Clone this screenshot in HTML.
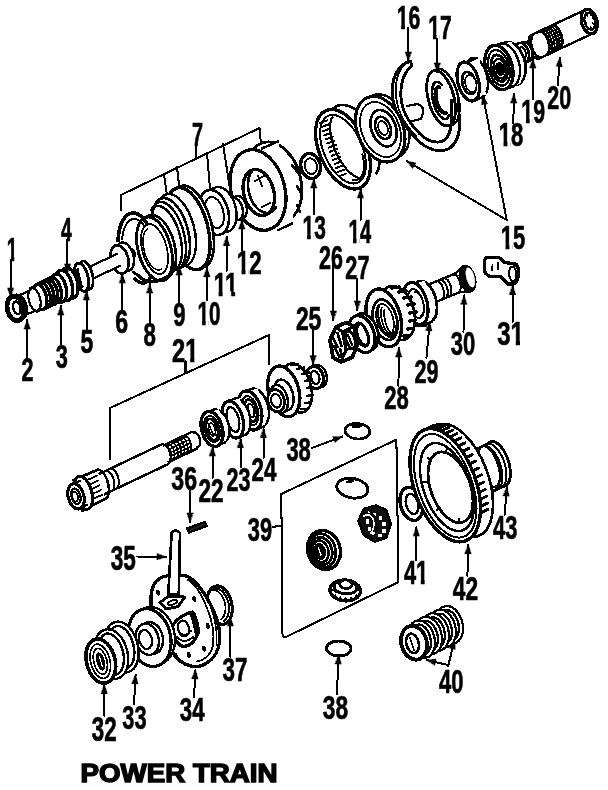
<!DOCTYPE html>
<html><head><meta charset="utf-8"><title>Power Train</title>
<style>
html,body{margin:0;padding:0;background:#fff;}
body{width:608px;height:790px;overflow:hidden;}
svg{display:block;filter:grayscale(1);}
svg .g *{stroke:#000;stroke-linecap:round;stroke-linejoin:round;}
svg .g text{font-family:"Liberation Sans",sans-serif;font-weight:bold;font-size:32.0px;fill:#000;stroke:#000;stroke-width:0.65px;stroke-linejoin:miter;}
svg .g .f{fill:#000;stroke:#000;stroke-width:0.6px;}
svg .g .w{fill:#fff;}
svg .g use{fill:#000;stroke:#000;stroke-linejoin:miter;}
svg .t{font-size:22px;}
</style></head><body>
<svg width="608" height="790" viewBox="0 0 608 790" fill="none" shape-rendering="crispEdges" text-rendering="optimizeSpeed">
<rect x="0" y="0" width="608" height="790" fill="#fff"/>
<defs><clipPath id="c1"><rect x="-0.50" y="-30" width="18.79" height="25.4"/><rect x="6.90" y="-4.8" width="5.6" height="6.8"/></clipPath><clipPath id="c10"><rect x="-0.50" y="-30" width="18.79" height="25.4"/><rect x="6.90" y="-4.8" width="5.6" height="6.8"/><rect x="17.29" y="-30" width="18.79" height="38"/></clipPath><clipPath id="c11"><rect x="-0.50" y="-30" width="18.79" height="25.4"/><rect x="6.90" y="-4.8" width="5.6" height="6.8"/><rect x="17.29" y="-30" width="18.79" height="25.4"/><rect x="24.69" y="-4.8" width="5.6" height="6.8"/></clipPath><clipPath id="c12"><rect x="-0.50" y="-30" width="18.79" height="25.4"/><rect x="6.90" y="-4.8" width="5.6" height="6.8"/><rect x="17.29" y="-30" width="18.79" height="38"/></clipPath><clipPath id="c13"><rect x="-0.50" y="-30" width="18.79" height="25.4"/><rect x="6.90" y="-4.8" width="5.6" height="6.8"/><rect x="17.29" y="-30" width="18.79" height="38"/></clipPath><clipPath id="c14"><rect x="-0.50" y="-30" width="18.79" height="25.4"/><rect x="6.90" y="-4.8" width="5.6" height="6.8"/><rect x="17.29" y="-30" width="18.79" height="38"/></clipPath><clipPath id="c15"><rect x="-0.50" y="-30" width="18.79" height="25.4"/><rect x="6.90" y="-4.8" width="5.6" height="6.8"/><rect x="17.29" y="-30" width="18.79" height="38"/></clipPath><clipPath id="c16"><rect x="-0.50" y="-30" width="18.79" height="25.4"/><rect x="6.90" y="-4.8" width="5.6" height="6.8"/><rect x="17.29" y="-30" width="18.79" height="38"/></clipPath><clipPath id="c17"><rect x="-0.50" y="-30" width="18.79" height="25.4"/><rect x="6.90" y="-4.8" width="5.6" height="6.8"/><rect x="17.29" y="-30" width="18.79" height="38"/></clipPath><clipPath id="c18"><rect x="-0.50" y="-30" width="18.79" height="25.4"/><rect x="6.90" y="-4.8" width="5.6" height="6.8"/><rect x="17.29" y="-30" width="18.79" height="38"/></clipPath><clipPath id="c19"><rect x="-0.50" y="-30" width="18.79" height="25.4"/><rect x="6.90" y="-4.8" width="5.6" height="6.8"/><rect x="17.29" y="-30" width="18.79" height="38"/></clipPath><clipPath id="c21"><rect x="-0.50" y="-30" width="18.79" height="38"/><rect x="17.29" y="-30" width="18.79" height="25.4"/><rect x="24.69" y="-4.8" width="5.6" height="6.8"/></clipPath><clipPath id="c31"><rect x="-0.50" y="-30" width="18.79" height="38"/><rect x="17.29" y="-30" width="18.79" height="25.4"/><rect x="24.69" y="-4.8" width="5.6" height="6.8"/></clipPath><clipPath id="c41"><rect x="-0.50" y="-30" width="18.79" height="38"/><rect x="17.29" y="-30" width="18.79" height="25.4"/><rect x="24.69" y="-4.8" width="5.6" height="6.8"/></clipPath></defs>
<g class="g">
<text transform="translate(80.50,782.00) scale(1.1800,1.0700)" text-anchor="start" style="font-size:23.5px;stroke-width:1.32px">POWER TRAIN</text>
<path d="M121,210 L121,195 L259.5,128 L261,144" stroke-width="2.02" fill="none" />
<line x1="164" y1="174" x2="167" y2="195" stroke-width="2.02"/>
<line x1="177" y1="167" x2="179" y2="185" stroke-width="2.02"/>
<line x1="207" y1="153" x2="210" y2="189" stroke-width="2.02"/>
<line x1="223" y1="144" x2="230" y2="189" stroke-width="2.02"/>
<line x1="196" y1="146" x2="196" y2="157" stroke-width="2.02"/>
<path d="M110,459 L110,408 L269,335 L269,364" stroke-width="2.02" fill="none" />
<line x1="185.5" y1="361" x2="185.5" y2="373" stroke-width="2.02"/>
<path d="M281.3,494 L396.4,439.7 L398.5,582 L286,637 Q282,638 282.5,632 Z" stroke-width="2.02" fill="none" />
<line x1="273" y1="527" x2="281" y2="525.5" stroke-width="2.02"/>
<ellipse cx="132.1" cy="253.4" rx="2.7" ry="4.5" transform="rotate(-14 132.1 253.4)" stroke-width="2.24" fill="#fff" />
<ellipse cx="124.9" cy="256.8" rx="8.7" ry="14.5" transform="rotate(-14 124.9 256.8)" stroke-width="2.46" fill="#fff" />
<ellipse cx="119.5" cy="259.4" rx="8.7" ry="14.5" transform="rotate(-14 119.5 259.4)" stroke-width="2.69" fill="#fff" />
<path d="M84.5,269.2 L117.1,253.8 L120.1,265.8 L87.5,281.2 Z" stroke-width="0.01" fill="#fff" />
<line x1="84.5" y1="269.2" x2="117.1" y2="253.8" stroke-width="2.24"/>
<line x1="87.5" y1="281.2" x2="120.1" y2="265.8" stroke-width="2.24"/>
<ellipse cx="86.0" cy="275.2" rx="6.5" ry="14.5" transform="rotate(-14 86.0 275.2)" stroke-width="2.69" fill="#fff" />
<ellipse cx="81.5" cy="277.3" rx="6.5" ry="14.5" transform="rotate(-14 81.5 277.3)" stroke-width="2.91" fill="#fff" />
<path d="M65.8,275.0 L78.4,269.0 L82.8,286.5 L70.1,292.4 Z" stroke-width="0.01" fill="#000" />
<line x1="65.8" y1="275.0" x2="78.4" y2="269.0" stroke-width="2.24"/>
<line x1="70.1" y1="292.4" x2="82.8" y2="286.5" stroke-width="2.24"/>
<ellipse cx="69.7" cy="282.9" rx="7.8" ry="15.5" transform="rotate(-14 69.7 282.9)" stroke-width="3.36" fill="#fff" />
<ellipse cx="64.3" cy="285.4" rx="7.8" ry="15.5" transform="rotate(-14 64.3 285.4)" stroke-width="3.36" fill="#fff" />
<path d="M30.6,287.8 L59.5,274.1 L65.5,298.4 L36.6,312.1 Z" stroke-width="0.01" fill="#fff" />
<line x1="30.6" y1="287.8" x2="59.5" y2="274.1" stroke-width="2.24"/>
<line x1="36.6" y1="312.1" x2="65.5" y2="298.4" stroke-width="2.24"/>
<ellipse cx="58.9" cy="288.0" rx="7.2" ry="14.5" transform="rotate(-14 58.9 288.0)" stroke-width="3.36" fill="#fff" />
<ellipse cx="54.4" cy="290.1" rx="6.5" ry="13" transform="rotate(-14 54.4 290.1)" stroke-width="3.36" fill="#fff" />
<ellipse cx="50.8" cy="291.8" rx="6.5" ry="13" transform="rotate(-14 50.8 291.8)" stroke-width="3.36" fill="#fff" />
<ellipse cx="47.1" cy="293.5" rx="6.5" ry="13" transform="rotate(-14 47.1 293.5)" stroke-width="3.36" fill="#fff" />
<ellipse cx="43.5" cy="295.3" rx="6.5" ry="13" transform="rotate(-14 43.5 295.3)" stroke-width="3.36" fill="#fff" />
<ellipse cx="39.9" cy="297.0" rx="6.5" ry="13" transform="rotate(-14 39.9 297.0)" stroke-width="3.36" fill="#fff" />
<path d="M15.7,297.0 L32.8,288.9 L37.9,309.3 L20.8,317.4 Z" stroke-width="0.01" fill="#fff" />
<line x1="15.7" y1="297.0" x2="32.8" y2="288.9" stroke-width="2.24"/>
<line x1="20.8" y1="317.4" x2="37.9" y2="309.3" stroke-width="2.24"/>
<ellipse cx="34.5" cy="299.5" rx="5.8" ry="11.5" transform="rotate(-14 34.5 299.5)" stroke-width="2.24" fill="#fff" />
<ellipse cx="18.2" cy="307.2" rx="8.2" ry="12.5" transform="rotate(-14 18.2 307.2)" stroke-width="2.91" fill="#fff" />
<ellipse cx="15.5" cy="308.5" rx="8.2" ry="12.5" transform="rotate(-14 15.5 308.5)" stroke-width="4.7" fill="#fff" />
<ellipse cx="16.9" cy="307.9" rx="3.6" ry="6.5" transform="rotate(-14 16.9 307.9)" stroke-width="2.46" fill="#fff" />
<ellipse cx="274.0" cy="182.0" rx="26.8" ry="40.8" transform="rotate(-15 274.0 182.0)" stroke-width="2.91" fill="#fff" />
<path d="M262.0,147.5 L278.0,140.5 L294.0,222.5 L278.0,230.0 Z" stroke-width="0.01" fill="#fff" />
<line x1="262" y1="148.5" x2="278" y2="141.5" stroke-width="2.46"/>
<line x1="278" y1="230.3" x2="292" y2="223.5" stroke-width="2.46"/>
<ellipse cx="258.0" cy="190.0" rx="26.8" ry="41.1" transform="rotate(-15 258.0 190.0)" stroke-width="3.36" fill="#fff" />
<line x1="284" y1="148" x2="291" y2="157" stroke-width="2.69"/>
<line x1="292" y1="165" x2="299" y2="174" stroke-width="2.69"/>
<line x1="297" y1="186" x2="302" y2="195" stroke-width="2.69"/>
<line x1="297" y1="205" x2="300" y2="212" stroke-width="2.46"/>
<ellipse cx="258.8" cy="192.5" rx="15.0" ry="23.5" transform="rotate(-15 258.8 192.5)" stroke-width="3.36" fill="#fff" />
<path d="M275.9,207.7 L274.7,209.3 L273.4,210.7 L271.9,211.7 L270.3,212.5 L268.6,212.9 L266.8,213.0 L265.0,212.8 L263.2,212.2 L261.3,211.4 L259.5,210.3 L257.8,208.8 L256.1,207.1 L254.6,205.2 L253.1,203.0 L251.9,200.7 L250.7,198.2 L249.8,195.6 L249.0,193.0 L248.5,190.3 L248.1,187.5 L248.0,184.9 L248.1,182.2 L248.4,179.7 L248.9,177.4 L249.6,175.2 L250.6,173.2 L251.6,171.5 L252.9,170.0" stroke-width="2.69" fill="none" />
<line x1="255" y1="181" x2="264" y2="176" stroke-width="1.79"/>
<line x1="262" y1="207" x2="270" y2="203" stroke-width="1.79"/>
<line x1="258" y1="176" x2="262" y2="186" stroke-width="1.79"/>
<ellipse cx="240.0" cy="207.0" rx="6.6" ry="11.3" transform="rotate(-15 240.0 207.0)" stroke-width="2.46" fill="#fff" />
<ellipse cx="236.0" cy="209.0" rx="6.6" ry="11.3" transform="rotate(-15 236.0 209.0)" stroke-width="2.46" fill="#fff" />
<ellipse cx="221.8" cy="209.5" rx="14.0" ry="23.0" transform="rotate(-15 221.8 209.5)" stroke-width="2.46" fill="#fff" />
<ellipse cx="214.0" cy="212.5" rx="14.3" ry="23.0" transform="rotate(-15 214.0 212.5)" stroke-width="2.69" fill="#fff" />
<ellipse cx="214.5" cy="212.5" rx="8.9" ry="15.9" transform="rotate(-15 214.5 212.5)" stroke-width="2.02" fill="#fff" />
<ellipse cx="192.5" cy="226.7" rx="19.2" ry="42.2" transform="rotate(-15 192.5 226.7)" stroke-width="2.69" fill="#fff" />
<ellipse cx="188.0" cy="228.7" rx="19.8" ry="42.2" transform="rotate(-15 188.0 228.7)" stroke-width="3.36" fill="#fff" />
<ellipse cx="176.0" cy="230.0" rx="18.2" ry="37.0" transform="rotate(-15 176.0 230.0)" stroke-width="2.46" fill="#fff" />
<ellipse cx="171.0" cy="233.0" rx="17.2" ry="35.9" transform="rotate(-15 171.0 233.0)" stroke-width="2.69" fill="#fff" />
<path d="M152.4,208.9 L153.8,206.2 L155.6,204.2 L157.5,202.8 L159.7,202.1 L162.1,202.1 L164.6,202.8 L167.2,204.1 L169.7,206.2 L172.3,208.8 L174.7,212.0 L177.1,215.7 L179.2,219.8 L181.1,224.2 L182.7,228.9 L184.0,233.7 L185.0,238.6 L185.7,243.4 L186.0,248.1 L185.9,252.5 L185.5,256.6 L184.6,260.2 L183.5,263.4 L182.0,266.0 L180.3,268.0 L178.3,269.3 L176.1,269.9 L173.7,269.9 L171.2,269.1" stroke-width="2.46" fill="none" />
<path d="M151.2,209.6 L152.8,207.9 L154.6,206.7 L156.5,206.1 L158.6,206.0 L160.8,206.5 L163.1,207.6 L165.4,209.1 L167.7,211.2 L169.9,213.7 L172.0,216.7 L174.0,220.0 L175.8,223.6 L177.5,227.5 L178.9,231.6 L180.1,235.8 L181.0,240.1 L181.6,244.3 L181.9,248.4 L182.0,252.4 L181.7,256.1 L181.2,259.5 L180.3,262.6 L179.2,265.2 L177.8,267.4 L176.2,269.1 L174.4,270.3 L172.5,270.9 L170.4,271.0" stroke-width="2.46" fill="none" />
<ellipse cx="158.0" cy="246.5" rx="16.5" ry="32.3" transform="rotate(-15 158.0 246.5)" stroke-width="2.69" fill="#fff" />
<ellipse cx="154.5" cy="249.0" rx="16.4" ry="32.8" transform="rotate(-15 154.5 249.0)" stroke-width="2.91" fill="#fff" />
<ellipse cx="154.5" cy="249.0" rx="12.2" ry="25.7" transform="rotate(-15 154.5 249.0)" stroke-width="1.79" fill="#fff" />
<path d="M161.7,269.0 L160.7,269.6 L159.6,269.9 L158.4,270.0 L157.1,269.8 L155.9,269.3 L154.6,268.6 L153.3,267.6 L152.0,266.4 L150.8,265.0 L149.6,263.3 L148.5,261.5 L147.4,259.6 L146.4,257.5 L145.6,255.3 L144.8,253.0 L144.2,250.7 L143.7,248.3 L143.3,246.0 L143.1,243.6 L143.0,241.4 L143.1,239.3 L143.3,237.2 L143.6,235.4 L144.1,233.7 L144.7,232.2 L145.5,230.9 L146.3,229.8 L147.3,229.0" stroke-width="1.57" fill="none" />
<path d="M118.0,240.7 L118.2,238.1 L118.4,235.5 L118.8,233.0 L119.2,230.6 L119.8,228.3 L120.4,226.1 L121.2,224.0 L122.0,222.1 L122.9,220.4 L123.9,218.8 L125.0,217.4 L126.1,216.1 L127.3,215.1 L128.6,214.3 L129.9,213.7 L131.2,213.2 L132.6,213.0 L134.0,213.0 L135.4,213.2 L136.8,213.7 L138.2,214.3 L139.6,215.1 L140.9,216.2 L142.3,217.4 L143.6,218.8 L144.8,220.4 L146.0,222.2 L147.1,224.1" stroke-width="3.58" fill="none" />
<path d="M122.1,239.5 L122.3,237.5 L122.6,235.6 L122.9,233.8 L123.3,232.0 L123.7,230.3 L124.3,228.7 L124.9,227.2 L125.5,225.8 L126.2,224.5 L127.0,223.4 L127.8,222.3 L128.6,221.4 L129.5,220.7 L130.5,220.0 L131.4,219.6 L132.4,219.2 L133.4,219.0 L134.4,219.0 L135.5,219.1 L136.5,219.4 L137.5,219.8 L138.6,220.3 L139.6,221.0 L140.6,221.9 L141.6,222.8 L142.6,223.9 L143.5,225.1 L144.4,226.5" stroke-width="2.02" fill="none" />
<path d="M151.0,276.1 L150.6,277.0 L150.3,277.7 L149.9,278.4 L149.5,279.1 L149.0,279.7 L148.6,280.3 L148.1,280.8 L147.6,281.3 L147.0,281.7 L146.5,282.1 L145.9,282.4 L145.4,282.6 L144.8,282.8 L144.2,282.9 L143.5,283.0 L142.9,283.0 L142.3,283.0 L141.6,282.9 L140.9,282.7 L140.2,282.5 L139.6,282.2 L138.9,281.9 L138.2,281.5 L137.5,281.1 L136.8,280.6 L136.1,280.0 L135.3,279.4 L134.6,278.8" stroke-width="3.36" fill="none" />
<path d="M139,276 Q150,288 170,275" stroke-width="3.36" fill="none" />
<path d="M133,272 L141,277" stroke-width="2.69" fill="none" />
<ellipse cx="310.6" cy="166.0" rx="9.8" ry="12.7" transform="rotate(-15 310.6 166.0)" stroke-width="3.36" fill="#fff" />
<ellipse cx="310.8" cy="166.2" rx="6.1" ry="7.9" transform="rotate(-15 310.8 166.2)" stroke-width="2.02" fill="#fff" />
<ellipse cx="353.0" cy="143.0" rx="23.5" ry="40.3" transform="rotate(-24 353.0 143.0)" stroke-width="2.69" fill="#fff" />
<path d="M330.0,113.0 L341.0,106.5 L378.0,179.0 L367.0,188.0 Z" stroke-width="0.01" fill="#fff" />
<ellipse cx="343.0" cy="149.2" rx="23.5" ry="42.2" transform="rotate(-24 343.0 149.2)" stroke-width="3.36" fill="#fff" />
<ellipse cx="343.0" cy="149.2" rx="19.2" ry="36.5" transform="rotate(-24 343.0 149.2)" stroke-width="2.02" fill="#fff" />
<path d="M360.9,178.0 L359.3,177.9 L357.7,177.5 L355.9,176.8 L354.1,175.8 L352.3,174.6 L350.4,173.0 L348.5,171.3 L346.6,169.3 L344.8,167.0 L343.0,164.6 L341.2,162.0 L339.6,159.3 L338.0,156.4 L336.5,153.4 L335.2,150.4 L334.0,147.3 L332.9,144.2 L332.0,141.1 L331.3,138.1 L330.7,135.1 L330.3,132.3 L330.0,129.6 L330.0,127.0 L330.1,124.6 L330.5,122.4 L331.0,120.4 L331.6,118.7 L332.5,117.2" stroke-width="2.24" fill="none" />
<line x1="320.0" y1="123.0" x2="327.0" y2="120.4" stroke-width="2.02"/>
<line x1="321.4" y1="127.1" x2="328.4" y2="124.5" stroke-width="2.02"/>
<line x1="322.9" y1="131.2" x2="329.9" y2="128.6" stroke-width="2.02"/>
<line x1="324.4" y1="135.3" x2="331.4" y2="132.7" stroke-width="2.02"/>
<line x1="325.8" y1="139.4" x2="332.8" y2="136.8" stroke-width="2.02"/>
<line x1="327.2" y1="143.5" x2="334.2" y2="140.9" stroke-width="2.02"/>
<line x1="328.7" y1="147.6" x2="335.7" y2="145.0" stroke-width="2.02"/>
<line x1="330.1" y1="151.7" x2="337.1" y2="149.1" stroke-width="2.02"/>
<line x1="331.6" y1="155.8" x2="338.6" y2="153.2" stroke-width="2.02"/>
<line x1="333.1" y1="159.9" x2="340.1" y2="157.3" stroke-width="2.02"/>
<line x1="334.5" y1="164.0" x2="341.5" y2="161.4" stroke-width="2.02"/>
<line x1="335.9" y1="168.1" x2="342.9" y2="165.5" stroke-width="2.02"/>
<line x1="337.4" y1="172.2" x2="344.4" y2="169.6" stroke-width="2.02"/>
<line x1="338.9" y1="176.3" x2="345.9" y2="173.7" stroke-width="2.02"/>
<path d="M362.4,154.3 L362.8,155.9 L363.2,157.6 L363.4,159.2 L363.7,160.8 L363.8,162.3 L363.9,163.8 L364.0,165.3 L364.0,166.7 L363.9,168.1 L363.8,169.4 L363.6,170.7 L363.3,171.9 L363.0,173.0 L362.7,174.0 L362.3,175.0 L361.8,175.9 L361.3,176.7 L360.7,177.4 L360.1,178.1 L359.4,178.6 L358.7,179.1 L357.9,179.4 L357.1,179.7 L356.3,179.9 L355.4,180.0 L354.5,180.0 L353.5,179.9 L352.6,179.7" stroke-width="2.02" fill="none" />
<ellipse cx="384.8" cy="126.7" rx="23.0" ry="33.6" transform="rotate(-22 384.8 126.7)" stroke-width="2.46" fill="#fff" />
<ellipse cx="380.2" cy="129.2" rx="22.9" ry="34.1" transform="rotate(-22 380.2 129.2)" stroke-width="3.14" fill="#fff" />
<ellipse cx="380.5" cy="129.5" rx="18.8" ry="28.7" transform="rotate(-22 380.5 129.5)" stroke-width="1.79" fill="#fff" />
<ellipse cx="383.6" cy="128.2" rx="12.2" ry="18.9" transform="rotate(-20 383.6 128.2)" stroke-width="2.69" fill="#fff" />
<ellipse cx="383.0" cy="127.9" rx="7.4" ry="11.5" transform="rotate(-20 383.0 127.9)" stroke-width="2.69" fill="#fff" />
<ellipse cx="383.0" cy="128.0" rx="4.6" ry="7.3" transform="rotate(-20 383.0 128.0)" stroke-width="1.79" fill="#fff" />
<path d="M410.6,61.4 C397,64 391,80 392.5,96 C394,112 403,124 412,134 C422,147 434,152 444,150.5 C455,148 459.5,136 459.5,125 L458.5,104 L451.5,104 C452.5,118 452,132 446,138.5 C440,145 428,142 420,134 C410,124 402,112 401,98 C400,84 404,72 411.6,66 Z" stroke-width="2.91" fill="#fff" />
<path d="M406.5,63 C396.5,70 394.5,86 396.5,100 C398.5,114 406,126 416,136" stroke-width="1.79" fill="none" />
<path d="M407,106 L418,104 Q424,106 423,113 L421,119 L412,121" stroke-width="2.24" fill="#fff" />
<ellipse cx="444.8" cy="97.0" rx="13.2" ry="28.8" transform="rotate(-15 444.8 97.0)" stroke-width="2.46" fill="#fff" />
<ellipse cx="441.1" cy="98.2" rx="12.8" ry="28.5" transform="rotate(-15 441.1 98.2)" stroke-width="2.91" fill="#fff" />
<path d="M449.0,115.4 L448.3,116.9 L447.4,118.1 L446.3,118.7 L445.2,119.0 L443.9,118.8 L442.5,118.2 L441.1,117.1 L439.7,115.6 L438.3,113.8 L437.0,111.6 L435.8,109.2 L434.8,106.6 L433.8,103.8 L433.1,100.9 L432.5,98.0 L432.1,95.2 L432.0,92.5 L432.1,90.0 L432.4,87.8 L432.9,85.9 L433.6,84.3 L434.4,83.1 L435.5,82.3 L436.6,82.0 L437.9,82.1 L439.3,82.7 L440.7,83.7 L442.1,85.1" stroke-width="2.69" fill="none" />
<path d="M445.7,112.8 L445.0,113.0 L444.3,113.0 L443.6,112.8 L442.9,112.4 L442.1,111.9 L441.4,111.1 L440.6,110.2 L439.9,109.2 L439.1,108.0 L438.5,106.7 L437.8,105.2 L437.3,103.7 L436.8,102.2 L436.3,100.6 L436.0,99.0 L435.7,97.4 L435.6,95.9 L435.5,94.4 L435.5,93.0 L435.6,91.7 L435.8,90.6 L436.1,89.5 L436.5,88.7 L437.0,88.0 L437.5,87.5 L438.1,87.1 L438.7,87.0 L439.4,87.1" stroke-width="4.03" fill="none" />
<path d="M444,150.5 C455,148 459.5,136 459.5,125 L458.5,100 M451.5,100 C452.5,118 452,132 446,138.5" stroke-width="2.91" fill="none" />
<ellipse cx="477.0" cy="77.2" rx="10.1" ry="19.7" transform="rotate(-15 477.0 77.2)" stroke-width="2.46" fill="#fff" />
<path d="M471.0,59.5 L479.0,56.0 L486.0,95.0 L474.0,101.0 Z" stroke-width="0.01" fill="#fff" />
<line x1="474" y1="101" x2="484" y2="96.5" stroke-width="2.46"/>
<line x1="468.5" y1="61.5" x2="477" y2="57.8" stroke-width="2.46"/>
<ellipse cx="468.2" cy="81.5" rx="10.3" ry="20.0" transform="rotate(-15 468.2 81.5)" stroke-width="3.14" fill="#fff" />
<ellipse cx="469.0" cy="83.0" rx="6.6" ry="11.3" transform="rotate(-15 469.0 83.0)" stroke-width="2.91" fill="#fff" />
<ellipse cx="470.8" cy="83.5" rx="5.5" ry="8.7" transform="rotate(-15 470.8 83.5)" stroke-width="1.79" fill="#fff" />
<path d="M532.6,34.4 L586.0,9.5 L592.5,33.6 L539.0,58.6 Z" stroke-width="0.01" fill="#fff" />
<line x1="532.6" y1="34.4" x2="586.0" y2="9.5" stroke-width="2.46"/>
<line x1="539.0" y1="58.6" x2="592.5" y2="33.6" stroke-width="2.46"/>
<ellipse cx="589.3" cy="21.6" rx="7.8" ry="12.5" transform="rotate(-15 589.3 21.6)" stroke-width="3.14" fill="#fff" />
<ellipse cx="589.7" cy="21.4" rx="5.1" ry="8.5" transform="rotate(-15 589.7 21.4)" stroke-width="2.24" fill="#fff" />
<line x1="587.4399999999999" y1="16.0" x2="586.3" y2="12.850000000000001" stroke-width="1.79"/>
<line x1="590.54" y1="14.8" x2="591.3" y2="10.975000000000001" stroke-width="1.79"/>
<line x1="592.4" y1="18.400000000000002" x2="594.3" y2="16.6" stroke-width="1.79"/>
<line x1="592.7099999999999" y1="23.200000000000003" x2="594.8" y2="24.1" stroke-width="1.79"/>
<line x1="590.8499999999999" y1="27.200000000000003" x2="591.8" y2="30.35" stroke-width="1.79"/>
<line x1="587.75" y1="27.6" x2="586.8" y2="30.975" stroke-width="1.79"/>
<line x1="586.1999999999999" y1="23.200000000000003" x2="584.3" y2="24.1" stroke-width="1.79"/>
<ellipse cx="535.8" cy="46.5" rx="6.9" ry="12.5" transform="rotate(-15 535.8 46.5)" stroke-width="2.46" fill="#fff" />
<path d="M535.3,33.2 L538.9,31.5 L545.4,55.6 L541.8,57.3 Z" stroke-width="0.01" fill="#fff" />
<line x1="535.3" y1="33.2" x2="538.9" y2="31.5" stroke-width="2.46"/>
<line x1="541.8" y1="57.3" x2="545.4" y2="55.6" stroke-width="2.46"/>
<path d="M541.8,57.3 L540.9,57.4 L539.9,57.4 L539.0,57.1 L538.0,56.6 L537.0,55.9 L536.1,55.0 L535.2,54.0 L534.4,52.8 L533.6,51.5 L532.9,50.1 L532.4,48.6 L531.9,47.0 L531.5,45.4 L531.3,43.8 L531.1,42.3 L531.2,40.7 L531.3,39.3 L531.5,38.0 L531.9,36.7 L532.4,35.7 L533.0,34.8 L533.7,34.0 L534.4,33.5 L535.3,33.2" stroke-width="2.46" fill="#fff" />
<path d="M538.9,31.5 L552.5,25.1 L559.0,49.3 L545.4,55.6 Z" stroke-width="0.01" fill="#fff" />
<line x1="538.9" y1="31.5" x2="552.5" y2="25.1" stroke-width="2.46"/>
<line x1="545.4" y1="55.6" x2="559.0" y2="49.3" stroke-width="2.46"/>
<path d="M539.8,31.0 L540.6,30.9 L541.5,31.0 L542.4,31.3 L543.3,31.9 L544.2,32.6 L545.0,33.4 L545.9,34.5 L546.7,35.7 L547.4,37.0 L548.0,38.4 L548.6,39.9 L549.1,41.5 L549.5,43.1 L549.7,44.7 L549.9,46.2 L549.9,47.8 L549.8,49.2 L549.6,50.5 L549.3,51.7 L548.9,52.8 L548.3,53.7 L547.7,54.4 L547.0,54.9 L546.3,55.2" stroke-width="1.79" fill="none" />
<path d="M542.2,29.9 L543.0,29.8 L543.8,29.9 L544.7,30.2 L545.6,30.8 L546.5,31.5 L547.4,32.3 L548.2,33.4 L549.0,34.6 L549.7,35.9 L550.4,37.3 L551.0,38.8 L551.4,40.4 L551.8,42.0 L552.1,43.6 L552.2,45.1 L552.3,46.7 L552.2,48.1 L552.0,49.4 L551.6,50.6 L551.2,51.7 L550.7,52.6 L550.1,53.3 L549.4,53.8 L548.6,54.1" stroke-width="1.79" fill="none" />
<path d="M544.5,28.8 L545.3,28.7 L546.2,28.8 L547.1,29.1 L548.0,29.7 L548.9,30.4 L549.7,31.2 L550.6,32.3 L551.4,33.5 L552.1,34.8 L552.8,36.2 L553.3,37.7 L553.8,39.3 L554.2,40.9 L554.4,42.5 L554.6,44.0 L554.6,45.6 L554.5,47.0 L554.3,48.3 L554.0,49.5 L553.6,50.6 L553.1,51.5 L552.5,52.2 L551.8,52.7 L551.0,53.0" stroke-width="1.79" fill="none" />
<path d="M546.9,27.7 L547.7,27.6 L548.6,27.7 L549.4,28.0 L550.3,28.6 L551.2,29.3 L552.1,30.1 L552.9,31.2 L553.7,32.4 L554.5,33.7 L555.1,35.1 L555.7,36.6 L556.2,38.2 L556.5,39.8 L556.8,41.4 L556.9,42.9 L557.0,44.5 L556.9,45.9 L556.7,47.2 L556.4,48.4 L555.9,49.5 L555.4,50.4 L554.8,51.1 L554.1,51.6 L553.4,51.9" stroke-width="1.79" fill="none" />
<path d="M549.2,26.6 L550.1,26.5 L550.9,26.6 L551.8,26.9 L552.7,27.5 L553.6,28.2 L554.5,29.0 L555.3,30.1 L556.1,31.3 L556.8,32.6 L557.5,34.0 L558.0,35.5 L558.5,37.1 L558.9,38.7 L559.1,40.3 L559.3,41.8 L559.3,43.4 L559.2,44.8 L559.0,46.1 L558.7,47.3 L558.3,48.4 L557.8,49.3 L557.2,50.0 L556.5,50.5 L555.7,50.8" stroke-width="1.79" fill="none" />
<path d="M551.6,25.6 L552.4,25.4 L553.3,25.5 L554.2,25.9 L555.0,26.4 L555.9,27.1 L556.8,27.9 L557.7,29.0 L558.4,30.2 L559.2,31.5 L559.8,32.9 L560.4,34.4 L560.9,36.0 L561.2,37.6 L561.5,39.2 L561.6,40.8 L561.7,42.3 L561.6,43.7 L561.4,45.0 L561.1,46.2 L560.7,47.3 L560.1,48.2 L559.5,48.9 L558.8,49.4 L558.1,49.7" stroke-width="1.79" fill="none" />
<line x1="548.8" y1="52.9" x2="560.6" y2="47.4" stroke-width="1.79"/>
<line x1="549.8" y1="49.4" x2="561.6" y2="43.9" stroke-width="1.79"/>
<line x1="549.9" y1="46.1" x2="561.6" y2="40.7" stroke-width="1.79"/>
<line x1="549.4" y1="43.0" x2="561.2" y2="37.5" stroke-width="1.79"/>
<line x1="548.6" y1="40.0" x2="560.4" y2="34.5" stroke-width="1.79"/>
<line x1="547.4" y1="37.1" x2="559.2" y2="31.6" stroke-width="1.79"/>
<line x1="545.7" y1="34.3" x2="557.5" y2="28.8" stroke-width="1.79"/>
<line x1="543.1" y1="31.8" x2="554.9" y2="26.3" stroke-width="1.79"/>
<path d="M552.5,25.1 L553.3,25.0 L554.2,25.1 L555.1,25.4 L556.0,25.9 L556.8,26.6 L557.7,27.5 L558.6,28.6 L559.3,29.8 L560.1,31.1 L560.7,32.5 L561.3,34.0 L561.8,35.6 L562.1,37.2 L562.4,38.8 L562.6,40.3 L562.6,41.8 L562.5,43.3 L562.3,44.6 L562.0,45.8 L561.6,46.9 L561.0,47.7 L560.4,48.4 L559.7,49.0 L559.0,49.3" stroke-width="2.24" fill="none" />
<path d="M538.9,31.5 L539.7,31.4 L540.6,31.5 L541.5,31.8 L542.4,32.3 L543.3,33.0 L544.1,33.9 L545.0,34.9 L545.8,36.1 L546.5,37.4 L547.1,38.9 L547.7,40.4 L548.2,41.9 L548.6,43.5 L548.8,45.1 L549.0,46.7 L549.0,48.2 L548.9,49.6 L548.7,50.9 L548.4,52.1 L548.0,53.2 L547.4,54.1 L546.8,54.8 L546.1,55.3 L545.4,55.6" stroke-width="2.24" fill="none" />
<ellipse cx="525.2" cy="52.0" rx="6.9" ry="10.2" transform="rotate(-15 525.2 52.0)" stroke-width="2.46" fill="#fff" />
<ellipse cx="522.0" cy="53.2" rx="6.7" ry="10.5" transform="rotate(-15 522.0 53.2)" stroke-width="2.69" fill="#fff" />
<ellipse cx="522.0" cy="53.0" rx="3.8" ry="6.1" transform="rotate(-15 522.0 53.0)" stroke-width="1.79" fill="#fff" />
<ellipse cx="511.3" cy="63.5" rx="13.6" ry="22.0" transform="rotate(-15 511.3 63.5)" stroke-width="2.69" fill="#fff" />
<path d="M503.0,44.0 L512.0,41.5 L521.0,83.0 L510.0,89.0 Z" stroke-width="0.01" fill="#fff" />
<ellipse cx="505.5" cy="65.5" rx="13.8" ry="22.5" transform="rotate(-15 505.5 65.5)" stroke-width="2.46" fill="#fff" />
<ellipse cx="498.9" cy="67.5" rx="13.3" ry="22.7" transform="rotate(-15 498.9 67.5)" stroke-width="3.36" fill="#fff" />
<ellipse cx="499.0" cy="67.8" rx="10.3" ry="18.2" transform="rotate(-15 499.0 67.8)" stroke-width="2.24" fill="#fff" />
<ellipse cx="499.2" cy="68.2" rx="7.7" ry="13.6" transform="rotate(-15 499.2 68.2)" stroke-width="2.91" fill="#fff" />
<ellipse cx="499.8" cy="68.8" rx="5.9" ry="10.0" transform="rotate(-15 499.8 68.8)" stroke-width="2.24" fill="#fff" />
<ellipse cx="500.0" cy="69.0" rx="3.8" ry="6.1" transform="rotate(-15 500.0 69.0)" stroke-width="1.79" fill="#000" />
<path d="M428.0,284.8 L455.8,273.3 L460.7,291.7 L433.0,303.2 Z" stroke-width="0.01" fill="#fff" />
<line x1="428.0" y1="284.8" x2="455.8" y2="273.3" stroke-width="2.46"/>
<line x1="433.0" y1="303.2" x2="460.7" y2="291.7" stroke-width="2.46"/>
<path d="M454.8,273.7 L464.1,266.1 L470.8,291.2 L459.8,292.1 Z" stroke-width="0.01" fill="#fff" />
<line x1="454.8" y1="273.7" x2="464.1" y2="266.1" stroke-width="2.46"/>
<line x1="459.8" y1="292.1" x2="470.8" y2="291.2" stroke-width="2.46"/>
<ellipse cx="467.5" cy="278.7" rx="7.2" ry="13" transform="rotate(-15 467.5 278.7)" stroke-width="2.69" fill="#000" />
<ellipse cx="470.4" cy="277.5" rx="4.4" ry="10.5" transform="rotate(-15 470.4 277.5)" stroke-width="0.56" fill="#fff" />
<path d="M436.4,281.4 L437.0,281.3 L437.6,281.4 L438.3,281.6 L439.0,282.0 L439.7,282.5 L440.3,283.2 L441.0,284.0 L441.6,284.9 L442.1,285.9 L442.6,287.0 L443.0,288.1 L443.4,289.3 L443.7,290.5 L443.9,291.7 L444.0,292.9 L444.0,294.1 L444.0,295.2 L443.8,296.2 L443.6,297.1 L443.2,297.9 L442.8,298.6 L442.4,299.1 L441.9,299.5 L441.3,299.7" stroke-width="2.02" fill="none" />
<path d="M440.1,279.8 L440.7,279.8 L441.3,279.8 L442.0,280.1 L442.7,280.5 L443.4,281.0 L444.0,281.7 L444.7,282.5 L445.3,283.4 L445.8,284.4 L446.3,285.5 L446.7,286.6 L447.1,287.8 L447.4,289.0 L447.6,290.2 L447.7,291.4 L447.7,292.5 L447.6,293.6 L447.5,294.6 L447.3,295.6 L446.9,296.4 L446.5,297.0 L446.1,297.6 L445.5,298.0 L445.0,298.2" stroke-width="2.02" fill="none" />
<path d="M443.7,278.3 L444.4,278.2 L445.0,278.3 L445.7,278.5 L446.4,278.9 L447.0,279.5 L447.7,280.1 L448.3,280.9 L449.0,281.8 L449.5,282.8 L450.0,283.9 L450.4,285.1 L450.8,286.3 L451.1,287.5 L451.3,288.7 L451.4,289.9 L451.4,291.0 L451.3,292.1 L451.2,293.1 L450.9,294.0 L450.6,294.8 L450.2,295.5 L449.8,296.0 L449.2,296.4 L448.7,296.7" stroke-width="2.02" fill="none" />
<path d="M453.0,274.5 L453.6,274.4 L454.3,274.5 L454.9,274.7 L455.6,275.1 L456.3,275.6 L457.0,276.3 L457.6,277.1 L458.2,278.0 L458.7,279.0 L459.2,280.1 L459.7,281.3 L460.0,282.4 L460.3,283.6 L460.5,284.9 L460.6,286.0 L460.6,287.2 L460.6,288.3 L460.4,289.3 L460.2,290.2 L459.9,291.0 L459.5,291.7 L459.0,292.2 L458.5,292.6 L457.9,292.8" stroke-width="2.02" fill="none" />
<ellipse cx="424.5" cy="301.5" rx="11.7" ry="21.0" transform="rotate(-15 424.5 301.5)" stroke-width="2.91" fill="#fff" />
<path d="M418.0,283.0 L425.0,280.5 L432.0,321.0 L424.0,325.0 Z" stroke-width="0.01" fill="#fff" />
<line x1="424" y1="325.3" x2="432" y2="321.5" stroke-width="2.91"/>
<ellipse cx="415.8" cy="303.4" rx="11.3" ry="21.6" transform="rotate(-15 415.8 303.4)" stroke-width="3.14" fill="#fff" />
<ellipse cx="416.0" cy="303.5" rx="7.3" ry="14.9" transform="rotate(-15 416.0 303.5)" stroke-width="2.02" fill="#fff" />
<path d="M414.9,292.0 L415.6,292.1 L416.3,292.3 L417.0,292.7 L417.7,293.1 L418.4,293.7 L419.1,294.3 L419.7,295.1 L420.4,295.9 L421.0,296.8 L421.5,297.8 L422.0,298.9 L422.5,300.0 L422.9,301.2 L423.2,302.3 L423.5,303.5 L423.7,304.7 L423.9,305.9 L424.0,307.1 L424.0,308.2 L423.9,309.3 L423.8,310.4 L423.6,311.3 L423.4,312.2 L423.1,313.1 L422.7,313.8 L422.2,314.5 L421.8,315.0 L421.2,315.4" stroke-width="1.79" fill="none" />
<line x1="417" y1="326" x2="426" y2="326" stroke-width="2.91"/>
<ellipse cx="397.0" cy="313.0" rx="17.1" ry="27.6" transform="rotate(-15 397.0 313.0)" stroke-width="2.69" fill="#fff" />
<path d="M387.1,287.5 L388.6,286.8 L390.3,286.3 L392.0,286.0 L393.7,286.0 L395.5,286.3 L397.3,286.9 L399.1,287.7 L400.9,288.8 L402.6,290.1 L404.3,291.6 L405.9,293.4 L407.4,295.3 L408.8,297.5 L410.1,299.7 L411.3,302.1 L412.3,304.7 L413.1,307.3 L413.9,309.9 L414.4,312.6 L414.8,315.3 L415.0,317.9 L415.0,320.6 L414.8,323.1 L414.5,325.6 L414.0,327.9 L413.3,330.0 L412.4,332.0 L411.4,333.9" stroke-width="2.69" fill="none" />
<line x1="392" y1="288" x2="399" y2="287" stroke-width="3.36"/>
<line x1="399" y1="292" x2="406" y2="291" stroke-width="3.36"/>
<line x1="404" y1="298" x2="411" y2="297" stroke-width="3.36"/>
<line x1="408" y1="305" x2="414.5" y2="304" stroke-width="3.36"/>
<line x1="410" y1="313" x2="416" y2="312" stroke-width="3.36"/>
<line x1="410" y1="321" x2="415" y2="320" stroke-width="3.36"/>
<line x1="408" y1="329" x2="412" y2="328.5" stroke-width="3.36"/>
<line x1="404" y1="336" x2="408" y2="336" stroke-width="3.36"/>
<ellipse cx="383.8" cy="317.9" rx="16.6" ry="29.6" transform="rotate(-15 383.8 317.9)" stroke-width="3.36" fill="#fff" />
<ellipse cx="385.1" cy="319.8" rx="11.7" ry="20.7" transform="rotate(-15 385.1 319.8)" stroke-width="2.69" fill="#fff" />
<ellipse cx="385.0" cy="319.5" rx="8.3" ry="15.9" transform="rotate(-15 385.0 319.5)" stroke-width="1.79" fill="#fff" />
<path d="M396.0,326.4 L395.9,328.4 L395.7,330.3 L395.4,332.0 L394.9,333.5 L394.2,334.8 L393.5,335.8 L392.6,336.5 L391.7,336.9 L390.6,337.0 L389.5,336.8 L388.4,336.3 L387.2,335.6 L386.0,334.5 L384.8,333.2 L383.7,331.7 L382.7,330.0 L381.7,328.1 L380.8,326.0 L380.0,323.8 L379.3,321.6 L378.8,319.3 L378.4,317.0 L378.1,314.8 L378.0,312.6 L378.1,310.6 L378.3,308.7 L378.6,307.0 L379.1,305.5" stroke-width="2.24" fill="none" />
<path d="M394.3,332.2 L394.0,333.1 L393.5,333.8 L393.0,334.4 L392.4,334.8 L391.8,335.0 L391.1,335.0 L390.4,334.8 L389.6,334.5 L388.8,333.9 L388.1,333.2 L387.3,332.3 L386.5,331.3 L385.8,330.1 L385.0,328.8 L384.3,327.4 L383.7,325.9 L383.1,324.3 L382.6,322.7 L382.1,321.0 L381.7,319.3 L381.4,317.6 L381.2,316.0 L381.1,314.4 L381.0,312.9 L381.0,311.4 L381.2,310.1 L381.4,308.9 L381.7,307.8" stroke-width="1.79" fill="none" />
<path d="M392.9,332.6 L392.6,332.9 L392.2,333.0 L391.8,333.0 L391.4,332.9 L391.0,332.6 L390.5,332.3 L390.0,331.8 L389.5,331.2 L389.0,330.5 L388.5,329.7 L388.0,328.8 L387.6,327.8 L387.1,326.8 L386.6,325.7 L386.2,324.5 L385.8,323.3 L385.4,322.1 L385.1,320.9 L384.8,319.6 L384.6,318.4 L384.4,317.2 L384.2,316.0 L384.1,314.9 L384.0,313.8 L384.0,312.8 L384.0,311.8 L384.1,311.0 L384.2,310.2" stroke-width="1.79" fill="none" />
<ellipse cx="365.2" cy="332.0" rx="12.2" ry="19.2" transform="rotate(-20 365.2 332.0)" stroke-width="2.69" fill="#fff" />
<ellipse cx="361.9" cy="334.1" rx="12.1" ry="19.2" transform="rotate(-20 361.9 334.1)" stroke-width="3.36" fill="#fff" />
<ellipse cx="361.8" cy="334.5" rx="5.7" ry="12.1" transform="rotate(-20 361.8 334.5)" stroke-width="3.14" fill="#fff" />
<path d="M367.4,344.4 L366.9,344.7 L366.3,344.9 L365.8,345.0 L365.1,345.0 L364.5,344.8 L363.8,344.5 L363.2,344.1 L362.5,343.5 L361.8,342.9 L361.2,342.2 L360.6,341.3 L360.0,340.4 L359.4,339.5 L358.9,338.4 L358.4,337.4 L358.0,336.3 L357.7,335.1 L357.4,334.0 L357.2,332.9 L357.1,331.8 L357.0,330.8 L357.0,329.8 L357.1,328.9 L357.3,328.0 L357.5,327.3 L357.8,326.6 L358.2,326.1 L358.6,325.6" stroke-width="2.46" fill="none" />
<path d="M336,327 L346,322.5 L354,326.5 L357.5,345 L352,357.5 L341,362 L333,357.5 L330,340 Z" stroke-width="3.81" fill="#fff" />
<path d="M336,327 L342.5,332 L346,350 L341,362 M342.5,332 L354,326.5 M346,350 L357.5,345" stroke-width="2.91" fill="none" />
<path d="M332,336 L337.5,347 M334,346 L339.5,357 M337.5,333 L341.5,346 M340,349 L342,356" stroke-width="2.69" fill="none" />
<ellipse cx="350.5" cy="339.8" rx="4.3" ry="9.1" transform="rotate(-18 350.5 339.8)" stroke-width="2.91" fill="#fff" />
<path d="M348,335 L352,345" stroke-width="2.24" fill="none" />
<ellipse cx="318.5" cy="376.2" rx="8.2" ry="11.4" transform="rotate(-15 318.5 376.2)" stroke-width="2.46" fill="#fff" />
<ellipse cx="314.8" cy="377.5" rx="8.6" ry="11.2" transform="rotate(-15 314.8 377.5)" stroke-width="3.14" fill="#fff" />
<ellipse cx="315.0" cy="377.5" rx="4.3" ry="6.6" transform="rotate(-15 315.0 377.5)" stroke-width="2.24" fill="#fff" />
<ellipse cx="296.5" cy="388.0" rx="14.6" ry="25.1" transform="rotate(-15 296.5 388.0)" stroke-width="2.69" fill="#fff" />
<line x1="291" y1="365" x2="298" y2="364" stroke-width="2.46"/>
<line x1="297" y1="369" x2="304" y2="367.5" stroke-width="2.46"/>
<line x1="302" y1="374" x2="309" y2="372.5" stroke-width="2.46"/>
<line x1="305.5" y1="381" x2="312" y2="379.5" stroke-width="2.46"/>
<line x1="307" y1="388" x2="313" y2="387" stroke-width="2.46"/>
<line x1="307" y1="396" x2="312.5" y2="395" stroke-width="2.46"/>
<line x1="305" y1="403" x2="310" y2="402.5" stroke-width="2.46"/>
<line x1="301" y1="409" x2="305" y2="409" stroke-width="2.46"/>
<ellipse cx="283.8" cy="391.4" rx="15.1" ry="25.9" transform="rotate(-15 283.8 391.4)" stroke-width="3.36" fill="#fff" />
<ellipse cx="283.8" cy="395.1" rx="9.2" ry="15.8" transform="rotate(-15 283.8 395.1)" stroke-width="2.46" fill="#fff" />
<ellipse cx="279.0" cy="399.0" rx="8.5" ry="14.3" transform="rotate(-15 279.0 399.0)" stroke-width="2.46" fill="#fff" />
<ellipse cx="276.1" cy="400.6" rx="8.2" ry="11.3" transform="rotate(-15 276.1 400.6)" stroke-width="2.91" fill="#fff" />
<ellipse cx="276.0" cy="400.8" rx="4.8" ry="6.9" transform="rotate(-15 276.0 400.8)" stroke-width="2.02" fill="#fff" />
<ellipse cx="257.0" cy="407.8" rx="11.2" ry="19.7" transform="rotate(-15 257.0 407.8)" stroke-width="2.46" fill="#fff" />
<path d="M251.0,390.5 L258.0,388.0 L265.0,426.0 L256.0,430.0 Z" stroke-width="0.01" fill="#fff" />
<line x1="256" y1="430" x2="264" y2="426.5" stroke-width="2.46"/>
<ellipse cx="250.0" cy="410.5" rx="11.2" ry="20.0" transform="rotate(-15 250.0 410.5)" stroke-width="3.14" fill="#fff" />
<ellipse cx="250.2" cy="410.5" rx="7.6" ry="14.9" transform="rotate(-15 250.2 410.5)" stroke-width="2.02" fill="#fff" />
<ellipse cx="250.8" cy="410.5" rx="5.7" ry="11.3" transform="rotate(-15 250.8 410.5)" stroke-width="2.69" fill="#fff" />
<ellipse cx="251.0" cy="410.5" rx="3.2" ry="6.7" transform="rotate(-15 251.0 410.5)" stroke-width="2.02" fill="#fff" />
<ellipse cx="239.0" cy="417.0" rx="10.8" ry="18.9" transform="rotate(-15 239.0 417.0)" stroke-width="2.46" fill="#fff" />
<path d="M233.0,400.5 L240.0,398.0 L246.0,434.0 L238.0,438.0 Z" stroke-width="0.01" fill="#fff" />
<line x1="238" y1="438" x2="246" y2="434.5" stroke-width="2.46"/>
<ellipse cx="232.8" cy="419.5" rx="9.9" ry="19.0" transform="rotate(-15 232.8 419.5)" stroke-width="3.14" fill="#fff" />
<ellipse cx="233.0" cy="419.5" rx="5.8" ry="12.8" transform="rotate(-15 233.0 419.5)" stroke-width="2.24" fill="#fff" />
<ellipse cx="218.2" cy="426.5" rx="10.7" ry="17.4" transform="rotate(-15 218.2 426.5)" stroke-width="2.46" fill="#fff" />
<path d="M212.0,411.5 L219.0,409.0 L226.0,442.0 L216.0,446.5 Z" stroke-width="0.01" fill="#fff" />
<line x1="216" y1="446.5" x2="225" y2="442.5" stroke-width="2.46"/>
<ellipse cx="212.0" cy="429.0" rx="10.3" ry="17.9" transform="rotate(-15 212.0 429.0)" stroke-width="3.36" fill="#fff" />
<ellipse cx="212.0" cy="429.0" rx="7.5" ry="13.3" transform="rotate(-15 212.0 429.0)" stroke-width="2.02" fill="#fff" />
<ellipse cx="212.0" cy="429.5" rx="5.5" ry="10.8" transform="rotate(-15 212.0 429.5)" stroke-width="2.69" fill="#fff" />
<ellipse cx="212.0" cy="429.5" rx="3.2" ry="6.7" transform="rotate(-15 212.0 429.5)" stroke-width="1.79" fill="#fff" />
<line x1="209" y1="425" x2="213" y2="434" stroke-width="1.57"/>
<ellipse cx="195.3" cy="439.9" rx="4.7" ry="7.8" transform="rotate(-15 195.3 439.9)" stroke-width="2.46" fill="#fff" />
<path d="M163.2,445.5 L192.2,431.8 L196.7,448.8 L167.8,462.5 Z" stroke-width="0.01" fill="#fff" />
<line x1="163.2" y1="445.5" x2="192.2" y2="431.8" stroke-width="2.46"/>
<line x1="167.8" y1="462.5" x2="196.7" y2="448.8" stroke-width="2.46"/>
<path d="M164.1,445.1 L164.7,445.0 L165.3,445.1 L165.9,445.3 L166.6,445.6 L167.2,446.1 L167.8,446.7 L168.4,447.5 L169.0,448.3 L169.5,449.3 L169.9,450.3 L170.3,451.3 L170.7,452.4 L170.9,453.5 L171.1,454.7 L171.2,455.8 L171.2,456.8 L171.2,457.8 L171.0,458.8 L170.8,459.6 L170.5,460.4 L170.1,461.0 L169.7,461.5 L169.2,461.8 L168.7,462.1" stroke-width="1.68" fill="none" />
<path d="M167.4,443.5 L168.0,443.4 L168.6,443.5 L169.2,443.7 L169.9,444.1 L170.5,444.6 L171.1,445.2 L171.7,445.9 L172.3,446.8 L172.8,447.7 L173.2,448.7 L173.6,449.8 L174.0,450.9 L174.2,452.0 L174.4,453.1 L174.5,454.2 L174.5,455.3 L174.5,456.3 L174.3,457.2 L174.1,458.0 L173.8,458.8 L173.5,459.4 L173.0,459.9 L172.5,460.3 L172.0,460.5" stroke-width="1.68" fill="none" />
<path d="M170.8,441.9 L171.3,441.9 L171.9,441.9 L172.6,442.1 L173.2,442.5 L173.8,443.0 L174.4,443.6 L175.0,444.4 L175.6,445.2 L176.1,446.1 L176.6,447.1 L177.0,448.2 L177.3,449.3 L177.5,450.4 L177.7,451.5 L177.8,452.6 L177.9,453.7 L177.8,454.7 L177.7,455.6 L177.4,456.5 L177.1,457.2 L176.8,457.8 L176.3,458.3 L175.9,458.7 L175.3,458.9" stroke-width="1.68" fill="none" />
<path d="M174.1,440.4 L174.6,440.3 L175.3,440.4 L175.9,440.6 L176.5,440.9 L177.1,441.4 L177.7,442.0 L178.3,442.8 L178.9,443.6 L179.4,444.6 L179.9,445.6 L180.3,446.6 L180.6,447.7 L180.9,448.8 L181.0,450.0 L181.2,451.1 L181.2,452.1 L181.1,453.1 L181.0,454.1 L180.7,454.9 L180.5,455.7 L180.1,456.3 L179.7,456.8 L179.2,457.1 L178.6,457.4" stroke-width="1.68" fill="none" />
<path d="M177.4,438.8 L178.0,438.7 L178.6,438.8 L179.2,439.0 L179.8,439.4 L180.4,439.9 L181.1,440.5 L181.7,441.2 L182.2,442.1 L182.7,443.0 L183.2,444.0 L183.6,445.1 L183.9,446.2 L184.2,447.3 L184.4,448.4 L184.5,449.5 L184.5,450.6 L184.4,451.6 L184.3,452.5 L184.1,453.3 L183.8,454.1 L183.4,454.7 L183.0,455.2 L182.5,455.6 L181.9,455.8" stroke-width="1.68" fill="none" />
<path d="M180.7,437.2 L181.3,437.2 L181.9,437.2 L182.5,437.4 L183.1,437.8 L183.8,438.3 L184.4,438.9 L185.0,439.7 L185.5,440.5 L186.0,441.4 L186.5,442.4 L186.9,443.5 L187.2,444.6 L187.5,445.7 L187.7,446.8 L187.8,447.9 L187.8,449.0 L187.7,450.0 L187.6,450.9 L187.4,451.8 L187.1,452.5 L186.7,453.1 L186.3,453.6 L185.8,454.0 L185.3,454.2" stroke-width="1.68" fill="none" />
<path d="M184.0,435.7 L184.6,435.6 L185.2,435.7 L185.8,435.9 L186.5,436.2 L187.1,436.7 L187.7,437.3 L188.3,438.1 L188.8,438.9 L189.4,439.9 L189.8,440.9 L190.2,441.9 L190.5,443.0 L190.8,444.1 L191.0,445.3 L191.1,446.4 L191.1,447.4 L191.1,448.4 L190.9,449.4 L190.7,450.2 L190.4,451.0 L190.0,451.6 L189.6,452.1 L189.1,452.4 L188.6,452.7" stroke-width="1.68" fill="none" />
<line x1="170.8" y1="459.7" x2="190.7" y2="450.3" stroke-width="1.68"/>
<line x1="171.2" y1="455.9" x2="191.1" y2="446.5" stroke-width="1.68"/>
<line x1="170.7" y1="452.4" x2="190.5" y2="443.0" stroke-width="1.68"/>
<line x1="169.4" y1="449.1" x2="189.3" y2="439.7" stroke-width="1.68"/>
<line x1="167.1" y1="446.1" x2="187.0" y2="436.7" stroke-width="1.68"/>
<path d="M163.0,444.8 L163.7,444.7 L164.3,444.8 L165.0,445.0 L165.7,445.4 L166.3,446.0 L167.0,446.6 L167.6,447.4 L168.2,448.3 L168.8,449.3 L169.3,450.4 L169.7,451.6 L170.1,452.8 L170.4,454.0 L170.6,455.2 L170.7,456.4 L170.7,457.5 L170.6,458.6 L170.5,459.6 L170.2,460.5 L169.9,461.3 L169.5,462.0 L169.1,462.5 L168.5,462.9 L168.0,463.2" stroke-width="2.24" fill="none" />
<path d="M98.6,474.2 L162.8,443.8 L168.2,464.1 L104.0,494.5 Z" stroke-width="0.01" fill="#fff" />
<line x1="98.6" y1="474.2" x2="162.8" y2="443.8" stroke-width="2.46"/>
<line x1="104.0" y1="494.5" x2="168.2" y2="464.1" stroke-width="2.46"/>
<path d="M105.8,470.8 L106.5,470.7 L107.2,470.8 L108.0,471.0 L108.7,471.5 L109.5,472.0 L110.2,472.8 L110.9,473.7 L111.6,474.7 L112.2,475.8 L112.7,477.0 L113.2,478.2 L113.6,479.6 L113.9,480.9 L114.1,482.2 L114.3,483.5 L114.3,484.8 L114.2,486.0 L114.1,487.1 L113.8,488.1 L113.4,489.0 L113.0,489.8 L112.5,490.4 L111.9,490.8 L111.3,491.1" stroke-width="2.02" fill="none" />
<path d="M110.3,468.6 L111.0,468.5 L111.8,468.6 L112.5,468.9 L113.2,469.3 L114.0,469.9 L114.7,470.6 L115.4,471.5 L116.1,472.5 L116.7,473.6 L117.3,474.8 L117.7,476.1 L118.1,477.4 L118.4,478.8 L118.7,480.1 L118.8,481.4 L118.8,482.7 L118.7,483.9 L118.6,485.0 L118.3,486.0 L118.0,486.9 L117.5,487.6 L117.0,488.2 L116.4,488.7 L115.8,488.9" stroke-width="2.02" fill="none" />
<path d="M73.7,480.0 L97.4,469.8 L105.2,498.8 L81.9,510.9 Z" stroke-width="0.01" fill="#fff" />
<line x1="73.7" y1="480.0" x2="97.4" y2="469.8" stroke-width="2.69"/>
<line x1="81.9" y1="510.9" x2="105.2" y2="498.8" stroke-width="2.69"/>
<path d="M97.4,469.8 L98.3,469.7 L99.3,469.9 L100.2,470.3 L101.2,470.9 L102.2,471.8 L103.2,472.9 L104.1,474.1 L105.0,475.6 L105.9,477.2 L106.6,478.9 L107.3,480.7 L107.8,482.6 L108.3,484.5 L108.6,486.4 L108.8,488.3 L108.9,490.1 L108.9,491.8 L108.7,493.3 L108.4,494.8 L107.9,496.0 L107.4,497.1 L106.8,497.9 L106.0,498.5 L105.2,498.8" stroke-width="2.46" fill="none" />
<line x1="89.4" y1="500.8" x2="102.1" y2="494.8" stroke-width="1.79"/>
<line x1="88.1" y1="496.0" x2="100.8" y2="490.0" stroke-width="1.79"/>
<line x1="86.8" y1="491.2" x2="99.5" y2="485.2" stroke-width="1.79"/>
<line x1="85.6" y1="486.3" x2="98.2" y2="480.4" stroke-width="1.79"/>
<line x1="84.3" y1="481.5" x2="96.9" y2="475.5" stroke-width="1.79"/>
<ellipse cx="83.2" cy="492.9" rx="8.5" ry="17" transform="rotate(-15 83.2 492.9)" stroke-width="2.91" fill="#fff" />
<path d="M72.8,484.2 L80.0,480.8 L86.5,505.0 L79.2,508.4 Z" stroke-width="0.01" fill="#fff" />
<line x1="72.8" y1="484.2" x2="80.0" y2="480.8" stroke-width="2.46"/>
<line x1="79.2" y1="508.4" x2="86.5" y2="505.0" stroke-width="2.46"/>
<ellipse cx="76.0" cy="496.3" rx="7.8" ry="13" transform="rotate(-15 76.0 496.3)" stroke-width="3.14" fill="#fff" />
<ellipse cx="76.0" cy="496.3" rx="4.4" ry="8" transform="rotate(-15 76.0 496.3)" stroke-width="2.24" fill="#fff" />
<ellipse cx="75.1" cy="496.7" rx="2.8" ry="5" transform="rotate(-15 75.1 496.7)" stroke-width="1.79" fill="#fff" />
<path d="M486,257.3 L498.8,257.3 L504.5,262.4 L516,264.2 Q519.5,268 518.4,274.5 Q518,281 515,283.7 L508,284.3 L501,276.8 L490.7,276.8 Q484,274 484.4,268.8 Q484,260 486,257.3 Z" stroke-width="3.36" fill="#fff" />
<ellipse cx="512.8" cy="274.0" rx="3.7" ry="7.5" transform="rotate(-5 512.8 274.0)" stroke-width="2.02" fill="#fff" />
<line x1="498" y1="263" x2="498" y2="269" stroke-width="1.79"/>
<line x1="492.5" y1="265" x2="492" y2="270" stroke-width="1.79"/>
<ellipse cx="352.4" cy="488.2" rx="9.7" ry="15.7" transform="rotate(-80 352.4 488.2)" stroke-width="2.91" fill="#fff" />
<path d="M347,482 L353,481" stroke-width="2.69" fill="none" />
<path d="M364,509 L376,505.8 L386,510 L390.5,524 L386,537.5 L375,541.5 L364,535 L358.6,521 Z" stroke-width="2.91" fill="#111" />
<rect x="367.5" y="510" width="3" height="3" fill="#fff" style="stroke:none"/>
<rect x="373" y="512.5" width="3" height="3.5" fill="#fff" style="stroke:none"/>
<rect x="378.5" y="516" width="3.5" height="4" fill="#fff" style="stroke:none"/>
<rect x="382" y="522" width="3.5" height="4" fill="#fff" style="stroke:none"/>
<rect x="382" y="529" width="3.5" height="3.5" fill="#fff" style="stroke:none"/>
<rect x="378" y="534" width="3.5" height="3" fill="#fff" style="stroke:none"/>
<rect x="366" y="519" width="3" height="4.5" fill="#fff" style="stroke:none"/>
<rect x="368" y="527" width="3" height="3.5" fill="#fff" style="stroke:none"/>
<rect x="372" y="532" width="3" height="3" fill="#fff" style="stroke:none"/>
<path d="M368.5,510.3 L369.2,510.6 L369.8,511.0 L370.5,511.4 L371.1,512.0 L371.8,512.6 L372.4,513.4 L373.0,514.2 L373.5,515.0 L374.1,515.9 L374.6,516.9 L375.0,517.9 L375.5,519.0 L375.8,520.1 L376.2,521.2 L376.4,522.3 L376.7,523.5 L376.8,524.6 L376.9,525.7 L377.0,526.8 L377.0,527.9 L376.9,528.9 L376.8,529.9 L376.6,530.8 L376.4,531.7 L376.1,532.5 L375.8,533.3 L375.4,533.9 L375.0,534.5" stroke-width="1.57" fill="none" />
<path d="M364,516 Q370,512 373.5,520 Q375,528 371,533" style="stroke:#fff" stroke-width="1.6" fill="none"/>
<ellipse cx="324" cy="550" rx="16.2" ry="19.8" transform="rotate(-15 324 550)" stroke-width="3.36" fill="#fff" />
<ellipse cx="322.5" cy="550.5" rx="13" ry="17" transform="rotate(-15 322.5 550.5)" stroke-width="2.69" fill="#fff" />
<ellipse cx="321.5" cy="551" rx="10.5" ry="14" transform="rotate(-15 321.5 551)" stroke-width="2.69" fill="#fff" />
<ellipse cx="320.5" cy="551.3" rx="8" ry="11" transform="rotate(-15 320.5 551.3)" stroke-width="2.46" fill="#fff" />
<ellipse cx="319.8" cy="551.5" rx="5.2" ry="7.5" transform="rotate(-15 319.8 551.5)" stroke-width="2.24" fill="#000" />
<path d="M318.5,548 L321,555" style="stroke:#fff" stroke-width="1.4" fill="none"/>
<ellipse cx="345.2" cy="590.4" rx="10.4" ry="15.3" transform="rotate(-85 345.2 590.4)" stroke-width="3.36" fill="#fff" />
<ellipse cx="345.5" cy="587.2" rx="6.7" ry="11.5" transform="rotate(-85 345.5 587.2)" stroke-width="2.91" fill="#fff" />
<ellipse cx="345.8" cy="584.2" rx="4.2" ry="6.3" transform="rotate(-85 345.8 584.2)" stroke-width="2.69" fill="#fff" />
<line x1="335" y1="595.5" x2="335.3" y2="597.7" stroke-width="2.24"/>
<line x1="340" y1="597.5" x2="340.3" y2="599.7" stroke-width="2.24"/>
<line x1="345.5" y1="598.5" x2="345.8" y2="600.7" stroke-width="2.24"/>
<line x1="351" y1="598" x2="351.3" y2="600.2" stroke-width="2.24"/>
<line x1="356" y1="595.5" x2="356.3" y2="597.7" stroke-width="2.24"/>
<path d="M333,590 Q345,598 358,590" stroke-width="2.02" fill="none" />
<ellipse cx="357.5" cy="431.2" rx="7.7" ry="12.5" transform="rotate(-85 357.5 431.2)" stroke-width="2.69" fill="#fff" />
<path d="M353,426.5 L361,426" stroke-width="2.91" fill="none" />
<ellipse cx="338.8" cy="648.5" rx="7.5" ry="12.3" transform="rotate(-88 338.8 648.5)" stroke-width="2.91" fill="#fff" />
<ellipse cx="411.4" cy="503.9" rx="10.9" ry="16.9" transform="rotate(-15 411.4 503.9)" stroke-width="3.36" fill="#fff" />
<ellipse cx="412.1" cy="503.9" rx="6.0" ry="10.3" transform="rotate(-15 412.1 503.9)" stroke-width="2.46" fill="#fff" />
<ellipse cx="497.6" cy="463.9" rx="11.2" ry="23.3" transform="rotate(-18 497.6 463.9)" stroke-width="2.91" fill="#fff" />
<path d="M482.1,448.4 L483.0,446.5 L484.1,445.1 L485.5,444.1 L487.0,443.5 L488.6,443.4 L490.4,443.8 L492.2,444.6 L494.0,445.8 L495.8,447.5 L497.6,449.5 L499.3,451.9 L500.9,454.5 L502.4,457.4 L503.6,460.5 L504.7,463.6 L505.5,466.9 L506.1,470.1 L506.4,473.2 L506.5,476.1 L506.3,478.9 L505.8,481.3 L505.1,483.5 L504.2,485.3 L503.0,486.7 L501.7,487.7 L500.2,488.2 L498.5,488.3 L496.8,487.9" stroke-width="2.02" fill="none" />
<path d="M478.1,450.4 L479.0,448.5 L480.1,447.1 L481.5,446.1 L483.0,445.5 L484.6,445.4 L486.4,445.8 L488.2,446.6 L490.0,447.8 L491.8,449.5 L493.6,451.5 L495.3,453.9 L496.9,456.5 L498.4,459.4 L499.6,462.5 L500.7,465.6 L501.5,468.9 L502.1,472.1 L502.4,475.2 L502.5,478.1 L502.3,480.9 L501.8,483.3 L501.1,485.5 L500.2,487.3 L499.0,488.7 L497.7,489.7 L496.2,490.2 L494.5,490.3 L492.8,489.9" stroke-width="2.02" fill="none" />
<path d="M474.1,452.4 L475.0,450.5 L476.1,449.1 L477.5,448.1 L479.0,447.5 L480.6,447.4 L482.4,447.8 L484.2,448.6 L486.0,449.8 L487.8,451.5 L489.6,453.5 L491.3,455.9 L492.9,458.5 L494.4,461.4 L495.6,464.5 L496.7,467.6 L497.5,470.9 L498.1,474.1 L498.4,477.2 L498.5,480.1 L498.3,482.9 L497.8,485.3 L497.1,487.5 L496.2,489.3 L495.0,490.7 L493.7,491.7 L492.2,492.2 L490.5,492.3 L488.8,491.9" stroke-width="2.02" fill="none" />
<ellipse cx="489.0" cy="466.5" rx="9.3" ry="21.3" transform="rotate(-18 489.0 466.5)" stroke-width="2.46" fill="#fff" />
<ellipse cx="458.0" cy="480.5" rx="30.4" ry="59.1" transform="rotate(-20 458.0 480.5)" stroke-width="2.69" fill="#fff" />
<line x1="431.1" y1="427.0" x2="424.1" y2="430.2" stroke-width="2.91"/>
<line x1="434.1" y1="425.3" x2="427.1" y2="428.5" stroke-width="2.91"/>
<line x1="437.4" y1="424.4" x2="430.4" y2="427.6" stroke-width="2.91"/>
<line x1="441.0" y1="424.5" x2="434.0" y2="427.7" stroke-width="2.91"/>
<line x1="444.8" y1="425.5" x2="437.8" y2="428.7" stroke-width="2.91"/>
<line x1="448.8" y1="427.4" x2="441.8" y2="430.6" stroke-width="2.91"/>
<line x1="452.9" y1="430.1" x2="445.9" y2="433.3" stroke-width="2.91"/>
<line x1="457.0" y1="433.6" x2="450.0" y2="436.8" stroke-width="2.91"/>
<line x1="461.0" y1="437.9" x2="454.0" y2="441.1" stroke-width="2.91"/>
<line x1="465.0" y1="442.9" x2="458.0" y2="446.1" stroke-width="2.91"/>
<line x1="468.8" y1="448.5" x2="461.8" y2="451.7" stroke-width="2.91"/>
<line x1="472.4" y1="454.6" x2="465.4" y2="457.8" stroke-width="2.91"/>
<line x1="475.7" y1="461.1" x2="468.7" y2="464.3" stroke-width="2.91"/>
<line x1="478.7" y1="468.0" x2="471.7" y2="471.2" stroke-width="2.91"/>
<line x1="481.3" y1="475.0" x2="474.3" y2="478.2" stroke-width="2.91"/>
<line x1="483.5" y1="482.2" x2="476.5" y2="485.4" stroke-width="2.91"/>
<line x1="485.3" y1="489.4" x2="478.3" y2="492.6" stroke-width="2.91"/>
<line x1="486.6" y1="496.4" x2="479.6" y2="499.6" stroke-width="2.91"/>
<line x1="487.4" y1="503.2" x2="480.4" y2="506.4" stroke-width="2.91"/>
<line x1="487.6" y1="509.6" x2="480.6" y2="512.8" stroke-width="2.91"/>
<ellipse cx="445.2" cy="485.2" rx="30.7" ry="59.2" transform="rotate(-20 445.2 485.2)" stroke-width="3.36" fill="#fff" />
<ellipse cx="445.2" cy="485.8" rx="26.8" ry="54.2" transform="rotate(-20 445.2 485.8)" stroke-width="2.02" fill="#fff" />
<ellipse cx="447.0" cy="487.0" rx="23.3" ry="46.0" transform="rotate(-20 447.0 487.0)" stroke-width="2.46" fill="#fff" />
<ellipse cx="450.5" cy="487.3" rx="19.8" ry="36.9" transform="rotate(-20 450.5 487.3)" stroke-width="2.91" fill="#fff" />
<line x1="446" y1="452" x2="447" y2="448" stroke-width="2.02"/>
<line x1="431" y1="460" x2="428" y2="458" stroke-width="2.02"/>
<line x1="428" y1="482" x2="424" y2="482" stroke-width="2.02"/>
<line x1="440" y1="508" x2="437" y2="510" stroke-width="2.02"/>
<line x1="459" y1="519" x2="460" y2="523" stroke-width="2.02"/>
<line x1="472" y1="497" x2="476" y2="498" stroke-width="2.02"/>
<ellipse cx="449.5" cy="624.8" rx="11.0" ry="17.1" transform="rotate(-15 449.5 624.8)" stroke-width="6.27" fill="#fff" />
<ellipse cx="449.5" cy="624.8" rx="11.0" ry="17.1" transform="rotate(-15 449.5 624.8)" stroke-width="1.79" fill="none" style="stroke:#fff"/>
<ellipse cx="442.5" cy="628.4" rx="11.0" ry="17.1" transform="rotate(-15 442.5 628.4)" stroke-width="6.27" fill="#fff" />
<ellipse cx="442.5" cy="628.4" rx="11.0" ry="17.1" transform="rotate(-15 442.5 628.4)" stroke-width="1.79" fill="none" style="stroke:#fff"/>
<ellipse cx="435.5" cy="632.0" rx="11.0" ry="17.1" transform="rotate(-15 435.5 632.0)" stroke-width="6.27" fill="#fff" />
<ellipse cx="435.5" cy="632.0" rx="11.0" ry="17.1" transform="rotate(-15 435.5 632.0)" stroke-width="1.79" fill="none" style="stroke:#fff"/>
<ellipse cx="428.5" cy="635.6" rx="11.0" ry="17.1" transform="rotate(-15 428.5 635.6)" stroke-width="6.27" fill="#fff" />
<ellipse cx="428.5" cy="635.6" rx="11.0" ry="17.1" transform="rotate(-15 428.5 635.6)" stroke-width="1.79" fill="none" style="stroke:#fff"/>
<ellipse cx="421.5" cy="639.2" rx="11.0" ry="17.1" transform="rotate(-15 421.5 639.2)" stroke-width="6.27" fill="#fff" />
<ellipse cx="421.5" cy="639.2" rx="11.0" ry="17.1" transform="rotate(-15 421.5 639.2)" stroke-width="1.79" fill="none" style="stroke:#fff"/>
<ellipse cx="414.0" cy="642.8" rx="12.7" ry="17.1" transform="rotate(-15 414.0 642.8)" stroke-width="3.81" fill="#fff" />
<ellipse cx="412.5" cy="643.4" rx="6.2" ry="9.9" transform="rotate(-15 412.5 643.4)" stroke-width="2.69" fill="#fff" />
<line x1="410" y1="638" x2="414" y2="650" stroke-width="1.79"/>
<ellipse cx="219.7" cy="605.2" rx="12.2" ry="19.5" transform="rotate(-12 219.7 605.2)" stroke-width="3.14" fill="#fff" />
<path d="M209.6,591.2 L210.7,590.2 L211.8,589.5 L213.0,588.9 L214.3,588.6 L215.7,588.5 L217.0,588.7 L218.4,589.1 L219.7,589.7 L221.0,590.5 L222.3,591.6 L223.5,592.8 L224.6,594.3 L225.6,595.8 L226.5,597.6 L227.3,599.4 L228.0,601.3 L228.5,603.3 L228.8,605.3 L229.0,607.3 L229.0,609.3 L228.8,611.2 L228.5,613.1 L228.1,614.8 L227.5,616.4 L226.7,617.9 L225.9,619.2 L224.9,620.3 L223.8,621.2" stroke-width="2.02" fill="none" />
<path d="M208.2,591.8 L209.2,591.1 L210.2,590.5 L211.4,590.2 L212.5,590.0 L213.7,590.0 L214.9,590.3 L216.1,590.7 L217.3,591.3 L218.5,592.0 L219.6,593.0 L220.6,594.1 L221.6,595.3 L222.5,596.7 L223.3,598.2 L223.9,599.8 L224.5,601.4 L225.0,603.1 L225.3,604.9 L225.5,606.6 L225.5,608.3 L225.4,610.0 L225.2,611.6 L224.8,613.2 L224.4,614.7 L223.8,616.0 L223.0,617.2 L222.2,618.3 L221.3,619.2" stroke-width="1.79" fill="none" />
<path d="M150.9,604 C150.5,594 152,586 156,581.5 C160,577 166,575.5 172,575.5 L184,575.5 C193,577 201,588 207,598 C214,610 219,622 219.8,634 C220.5,646 216,656 209,661.5 C203,666 197,667.5 191,666 C184,664.5 178,661 172,652 C162,640 152,620 150.9,604 Z" stroke-width="3.36" fill="#fff" />
<path d="M188,580 C196,584 203,598 207,608 C212,620 214.5,633 213,645 C211.5,654 205,660 197,661.5" stroke-width="1.79" fill="none" />
<path d="M192,579 C200,584 207,598 211,608 C215.5,620 217.5,633 216.5,645" stroke-width="1.46" fill="none" />
<path d="M192.5,612 C186,613 176,619 172.6,626 C172,634 175,642 181.6,646 C188,648 195,642 198,633 C198.5,626 196,617 192.5,612 Z" stroke-width="3.36" fill="#fff" />
<path d="M189.5,612 L195.5,613.5 L199,632 L195.5,635 L192.5,621 Z" stroke-width="1.12" fill="#000" />
<ellipse cx="183.5" cy="628.5" rx="5.5" ry="8" transform="rotate(-14 183.5 628.5)" stroke-width="2.24" fill="none" />
<path d="M177,637 Q184,645 193,637" stroke-width="2.02" fill="none" />
<path d="M179,632 Q185,638 191,631" stroke-width="1.57" fill="none" />
<path d="M160,602.5 L168,596.5 L185,597 L178,606.5 L166,609 Z" stroke-width="2.91" fill="#fff" />
<ellipse cx="172.5" cy="602.5" rx="5" ry="2" transform="rotate(-22 172.5 602.5)" stroke-width="2.02" fill="none" />
<ellipse cx="158.0" cy="592.6" rx="1.2" ry="2.2" transform="rotate(-14 158.0 592.6)" stroke-width="1.57" fill="#000" />
<ellipse cx="194.3" cy="599.0" rx="1.2" ry="2.2" transform="rotate(-14 194.3 599.0)" stroke-width="1.57" fill="#000" />
<ellipse cx="207.8" cy="626.0" rx="1.2" ry="2.2" transform="rotate(-14 207.8 626.0)" stroke-width="1.57" fill="#000" />
<ellipse cx="204.2" cy="648.7" rx="1.2" ry="2.2" transform="rotate(-14 204.2 648.7)" stroke-width="1.57" fill="#000" />
<ellipse cx="188.9" cy="655.0" rx="1.2" ry="2.2" transform="rotate(-14 188.9 655.0)" stroke-width="1.57" fill="#000" />
<ellipse cx="176.0" cy="656.0" rx="1.2" ry="2.2" transform="rotate(-14 176.0 656.0)" stroke-width="1.57" fill="#000" />
<path d="M168.3,594 L171.6,533 Q175.6,528 180,533 L178.8,594 Z" stroke-width="2.69" fill="#fff" />
<ellipse cx="153.5" cy="635.5" rx="21.0" ry="28.9" transform="rotate(-14 153.5 635.5)" stroke-width="2.46" fill="#fff" />
<ellipse cx="149.7" cy="637.6" rx="20.8" ry="29.3" transform="rotate(-14 149.7 637.6)" stroke-width="3.14" fill="#fff" />
<ellipse cx="151.0" cy="638.0" rx="11.7" ry="16.2" transform="rotate(-14 151.0 638.0)" stroke-width="2.46" fill="#fff" />
<ellipse cx="147.3" cy="639.3" rx="11.3" ry="15.9" transform="rotate(-14 147.3 639.3)" stroke-width="2.46" fill="#fff" />
<ellipse cx="145.5" cy="639.5" rx="6.3" ry="9.7" transform="rotate(-14 145.5 639.5)" stroke-width="2.24" fill="#fff" />
<ellipse cx="121.6" cy="647.1" rx="14.2" ry="23.7" transform="rotate(-14 121.6 647.1)" stroke-width="6.72" fill="#fff" />
<ellipse cx="121.6" cy="647.1" rx="14.2" ry="23.7" transform="rotate(-14 121.6 647.1)" stroke-width="1.9" fill="none" style="stroke:#fff"/>
<ellipse cx="111.2" cy="654.1" rx="14.2" ry="23.1" transform="rotate(-14 111.2 654.1)" stroke-width="6.72" fill="#fff" />
<ellipse cx="111.2" cy="654.1" rx="14.2" ry="23.1" transform="rotate(-14 111.2 654.1)" stroke-width="1.9" fill="none" style="stroke:#fff"/>
<ellipse cx="100.8" cy="661.1" rx="14.3" ry="22.5" transform="rotate(-14 100.8 661.1)" stroke-width="3.58" fill="#fff" />
<ellipse cx="100.3" cy="661.3" rx="9.6" ry="17.5" transform="rotate(-14 100.3 661.3)" stroke-width="1.68" fill="none" />
<ellipse cx="100.3" cy="661.3" rx="6.6" ry="13.2" transform="rotate(-14 100.3 661.3)" stroke-width="1.68" fill="none" />
<ellipse cx="100.6" cy="661.5" rx="3.4" ry="8.6" transform="rotate(-14 100.6 661.5)" stroke-width="1.57" fill="#000" />
<path d="M99.6,656.5 L102.2,666.5" style="stroke:#fff" stroke-width="1.2" fill="none"/>
<path d="M187,528.5 L205,522 L206.5,526 L189,532.5 Z" stroke-width="2.46" fill="#222" />
<g transform="translate(6.79,260.90) scale(0.6000,1.0586)" clip-path="url(#c1)"><text>1</text></g>
<g transform="translate(21.55,380.90) scale(0.6751,1.0540)"><text>2</text></g>
<g transform="translate(55.80,367.80) scale(0.6790,1.0540)"><text>3</text></g>
<g transform="translate(61.01,241.30) scale(0.6067,1.0540)"><text>4</text></g>
<g transform="translate(80.60,353.00) scale(0.7160,1.0540)"><text>5</text></g>
<g transform="translate(115.25,333.30) scale(0.7240,1.0540)"><text>6</text></g>
<g transform="translate(191.99,146.30) scale(0.6200,1.0540)"><text>7</text></g>
<g transform="translate(143.59,346.30) scale(0.6963,1.0540)"><text>8</text></g>
<g transform="translate(173.23,326.30) scale(0.6903,1.0540)"><text>9</text></g>
<g transform="translate(197.59,325.30) scale(0.6450,1.0540)" clip-path="url(#c10)"><text>10</text></g>
<g transform="translate(213.76,296.00) scale(0.7063,1.0540)" clip-path="url(#c11)"><text>11</text></g>
<g transform="translate(236.77,274.30) scale(0.6973,1.0540)" clip-path="url(#c12)"><text>12</text></g>
<g transform="translate(302.57,238.80) scale(0.6543,1.0540)" clip-path="url(#c13)"><text>13</text></g>
<g transform="translate(348.61,243.30) scale(0.6349,1.0540)" clip-path="url(#c14)"><text>14</text></g>
<g transform="translate(500.79,249.30) scale(0.6889,1.0311)" clip-path="url(#c15)"><text>15</text></g>
<g transform="translate(396.65,28.80) scale(0.6636,1.0311)" clip-path="url(#c16)"><text>16</text></g>
<g transform="translate(428.36,38.80) scale(0.6594,1.0311)" clip-path="url(#c17)"><text>17</text></g>
<g transform="translate(498.79,146.30) scale(0.6909,1.0540)" clip-path="url(#c18)"><text>18</text></g>
<g transform="translate(521.35,123.30) scale(0.6642,1.0540)" clip-path="url(#c19)"><text>19</text></g>
<g transform="translate(547.35,109.30) scale(0.6753,1.0540)"><text>20</text></g>
<g transform="translate(171.98,361.80) scale(0.7391,1.0311)" clip-path="url(#c21)"><text>21</text></g>
<g transform="translate(198.52,502.00) scale(0.7048,1.0540)"><text>22</text></g>
<g transform="translate(226.55,490.80) scale(0.6721,1.0540)"><text>23</text></g>
<g transform="translate(251.52,481.30) scale(0.6995,1.0540)"><text>24</text></g>
<g transform="translate(295.91,329.80) scale(0.7144,1.0311)"><text>25</text></g>
<g transform="translate(319.05,269.30) scale(0.6721,1.0540)"><text>26</text></g>
<g transform="translate(345.35,279.30) scale(0.6772,1.0540)"><text>27</text></g>
<g transform="translate(384.14,409.30) scale(0.6896,1.0540)"><text>28</text></g>
<g transform="translate(414.45,382.90) scale(0.6727,1.0586)"><text>29</text></g>
<g transform="translate(450.79,354.90) scale(0.6886,1.0540)"><text>30</text></g>
<g transform="translate(497.25,345.30) scale(0.7503,1.0540)" clip-path="url(#c31)"><text>31</text></g>
<g transform="translate(91.79,740.80) scale(0.6969,1.0769)"><text>32</text></g>
<g transform="translate(122.30,729.30) scale(0.6795,1.0540)"><text>33</text></g>
<g transform="translate(179.79,721.10) scale(0.6948,1.0586)"><text>34</text></g>
<g transform="translate(110.78,569.80) scale(0.7065,1.0769)"><text>35</text></g>
<g transform="translate(171.27,490.30) scale(0.7240,1.0311)"><text>36</text></g>
<g transform="translate(222.59,680.90) scale(0.6995,1.0357)"><text>37</text></g>
<g transform="translate(286.39,460.80) scale(0.6878,1.0311)"><text>38</text></g>
<g transform="translate(322.78,718.80) scale(0.7114,1.0311)"><text>38</text></g>
<g transform="translate(247.80,541.30) scale(0.6831,1.0403)"><text>39</text></g>
<g transform="translate(438.97,693.10) scale(0.6865,1.0540)"><text>40</text></g>
<g transform="translate(403.97,584.10) scale(0.6822,1.0540)" clip-path="url(#c41)"><text>41</text></g>
<g transform="translate(452.76,600.30) scale(0.7095,1.0403)"><text>42</text></g>
<g transform="translate(492.97,538.80) scale(0.6833,1.0403)"><text>43</text></g>
<line x1="10.5" y1="260" x2="10.5" y2="297" stroke-width="2"/>
<polygon class="f" points="10.5,297.0 7.5,288.0 13.5,288.0"/>
<line x1="27.3" y1="358" x2="27.3" y2="320" stroke-width="2"/>
<polygon class="f" points="27.3,320.0 30.3,329.0 24.3,329.0"/>
<line x1="60.9" y1="344" x2="60.9" y2="306" stroke-width="2"/>
<polygon class="f" points="60.9,306.0 63.9,315.0 57.9,315.0"/>
<line x1="67.4" y1="239" x2="67.4" y2="273" stroke-width="2"/>
<polygon class="f" points="67.4,273.0 64.4,264.0 70.4,264.0"/>
<line x1="86.5" y1="330" x2="86.5" y2="291" stroke-width="2"/>
<polygon class="f" points="86.5,291.0 89.5,300.0 83.5,300.0"/>
<line x1="122.4" y1="310" x2="122.4" y2="274" stroke-width="2"/>
<polygon class="f" points="122.4,274.0 125.4,283.0 119.4,283.0"/>
<line x1="149.7" y1="323" x2="149.7" y2="284" stroke-width="2"/>
<polygon class="f" points="149.7,284.0 152.7,293.0 146.7,293.0"/>
<line x1="179.3" y1="303" x2="179.3" y2="266" stroke-width="2"/>
<polygon class="f" points="179.3,266.0 182.3,275.0 176.3,275.0"/>
<line x1="207" y1="300.6" x2="207" y2="267.8" stroke-width="2"/>
<polygon class="f" points="207.0,267.8 210.0,276.8 204.0,276.8"/>
<line x1="226.6" y1="271" x2="226.6" y2="236.5" stroke-width="2"/>
<polygon class="f" points="226.6,236.5 229.6,245.5 223.6,245.5"/>
<line x1="242" y1="249.7" x2="242" y2="220" stroke-width="2"/>
<polygon class="f" points="242.0,220.0 245.0,229.0 239.0,229.0"/>
<line x1="313.9" y1="214" x2="313.9" y2="179" stroke-width="2"/>
<polygon class="f" points="313.9,179.0 316.9,188.0 310.9,188.0"/>
<line x1="360.6" y1="219.7" x2="360.6" y2="189" stroke-width="2"/>
<polygon class="f" points="360.6,189.0 363.6,198.0 357.6,198.0"/>
<line x1="506.7" y1="220" x2="483" y2="95.4" stroke-width="2"/>
<polygon class="f" points="483.0,95.4 487.6,103.7 481.7,104.8"/>
<line x1="506.7" y1="220" x2="406.6" y2="161" stroke-width="2"/>
<polygon class="f" points="406.6,161.0 415.9,163.0 412.8,168.2"/>
<line x1="408.3" y1="28" x2="408.3" y2="61" stroke-width="2"/>
<polygon class="f" points="408.3,61.0 405.3,52.0 411.3,52.0"/>
<line x1="437.2" y1="39" x2="437.2" y2="72" stroke-width="2"/>
<polygon class="f" points="437.2,72.0 434.2,63.0 440.2,63.0"/>
<line x1="513.3" y1="123" x2="514" y2="94" stroke-width="2"/>
<polygon class="f" points="514.0,94.0 516.8,103.1 510.8,102.9"/>
<line x1="533" y1="98.7" x2="533" y2="59" stroke-width="2"/>
<polygon class="f" points="533.0,59.0 536.0,68.0 530.0,68.0"/>
<line x1="557.7" y1="85.5" x2="560" y2="57.6" stroke-width="2"/>
<polygon class="f" points="560.0,57.6 562.3,66.8 556.3,66.3"/>
<line x1="212.5" y1="478" x2="212.5" y2="447" stroke-width="2"/>
<polygon class="f" points="212.5,447.0 215.5,456.0 209.5,456.0"/>
<line x1="240.5" y1="467.5" x2="240.5" y2="438.6" stroke-width="2"/>
<polygon class="f" points="240.5,438.6 243.5,447.6 237.5,447.6"/>
<line x1="263.5" y1="458" x2="263.5" y2="428.7" stroke-width="2"/>
<polygon class="f" points="263.5,428.7 266.5,437.7 260.5,437.7"/>
<line x1="313" y1="330" x2="313" y2="364.5" stroke-width="2"/>
<polygon class="f" points="313.0,364.5 310.0,355.5 316.0,355.5"/>
<line x1="333.3" y1="257.6" x2="333.3" y2="320" stroke-width="2"/>
<polygon class="f" points="333.3,320.0 330.3,311.0 336.3,311.0"/>
<line x1="357.3" y1="279" x2="357.3" y2="310" stroke-width="2"/>
<polygon class="f" points="357.3,310.0 354.3,301.0 360.3,301.0"/>
<line x1="398.4" y1="385.9" x2="399" y2="348" stroke-width="2"/>
<polygon class="f" points="399.0,348.0 401.9,357.0 395.9,357.0"/>
<line x1="426.4" y1="358" x2="429.7" y2="321.7" stroke-width="2"/>
<polygon class="f" points="429.7,321.7 431.9,330.9 425.9,330.4"/>
<line x1="463.5" y1="331.6" x2="464.2" y2="295.4" stroke-width="2"/>
<polygon class="f" points="464.2,295.4 467.0,304.5 461.0,304.3"/>
<line x1="512.6" y1="322" x2="512.6" y2="285.5" stroke-width="2"/>
<polygon class="f" points="512.6,285.5 515.6,294.5 509.6,294.5"/>
<line x1="104.4" y1="715.8" x2="104.4" y2="684.6" stroke-width="2"/>
<polygon class="f" points="104.4,684.6 107.4,693.6 101.4,693.6"/>
<line x1="134" y1="704" x2="135.6" y2="674.7" stroke-width="2"/>
<polygon class="f" points="135.6,674.7 138.1,683.9 132.1,683.5"/>
<line x1="194" y1="697" x2="195.5" y2="669.8" stroke-width="2"/>
<polygon class="f" points="195.5,669.8 198.0,679.0 192.0,678.6"/>
<line x1="137" y1="556.5" x2="166" y2="557" stroke-width="2"/>
<polygon class="f" points="166.0,557.0 156.9,559.8 157.1,553.8"/>
<line x1="190" y1="491" x2="190" y2="522" stroke-width="2"/>
<polygon class="f" points="190.0,522.0 187.0,513.0 193.0,513.0"/>
<line x1="230.4" y1="656.6" x2="230.4" y2="617" stroke-width="2"/>
<polygon class="f" points="230.4,617.0 233.4,626.0 227.4,626.0"/>
<line x1="312" y1="448" x2="342.4" y2="436.5" stroke-width="2"/>
<polygon class="f" points="342.4,436.5 335.0,442.5 332.9,436.9"/>
<line x1="336.8" y1="694.5" x2="338.8" y2="655" stroke-width="2"/>
<polygon class="f" points="338.8,655.0 341.3,664.1 335.3,663.8"/>
<line x1="448" y1="666.5" x2="454.6" y2="640" stroke-width="2"/>
<polygon class="f" points="454.6,640.0 455.3,649.5 449.5,648.0"/>
<line x1="448" y1="665" x2="426.6" y2="660" stroke-width="2"/>
<polygon class="f" points="426.6,660.0 436.0,659.1 434.7,665.0"/>
<line x1="416" y1="560" x2="416.5" y2="527" stroke-width="2"/>
<polygon class="f" points="416.5,527.0 419.4,536.0 413.4,536.0"/>
<line x1="467.4" y1="576" x2="468.4" y2="544.7" stroke-width="2"/>
<polygon class="f" points="468.4,544.7 471.1,553.8 465.1,553.6"/>
<line x1="504.6" y1="515" x2="507" y2="487" stroke-width="2"/>
<polygon class="f" points="507.0,487.0 509.2,496.2 503.2,495.7"/>
</g>
</svg>
</body></html>
